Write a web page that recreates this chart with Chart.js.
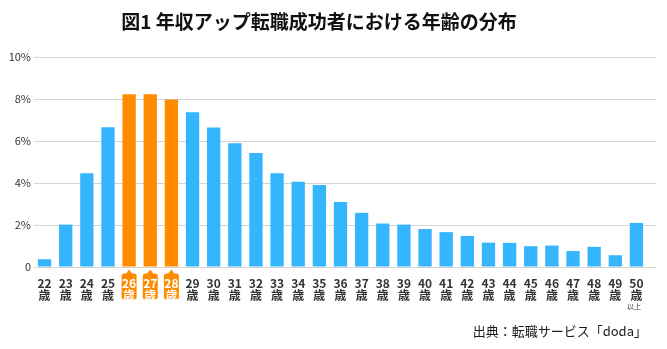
<!DOCTYPE html>
<html lang="ja">
<head>
<meta charset="utf-8">
<title>年収アップ転職成功者における年齢の分布</title>
<script src="https://cdn.jsdelivr.net/npm/chart.js@4"></script>
<style>
  html, body { margin: 0; padding: 0; background: #ffffff; }
  canvas { display: block; }
</style>
</head>
<body>
<canvas id="chart" width="667" height="349"></canvas>
<script>
// 年齢（歳）
const ages = ['22','23','24','25','26','27','28','29','30','31','32','33','34','35','36',
              '37','38','39','40','41','42','43','44','45','46','47','48','49','50'];
// 年収アップ転職成功者に占める割合（%）
const shares = [0.37, 2.02, 4.46, 6.66, 8.23, 8.23, 7.98, 7.37, 6.64, 5.89, 5.43, 4.47, 4.06, 3.90, 3.09,
                2.58, 2.07, 2.02, 1.81, 1.66, 1.48, 1.16, 1.15, 0.99, 1.02, 0.76, 0.96, 0.56, 2.10];
// 強調する年齢
const highlightAges = ['26', '27', '28'];
// 縦軸の目盛り
const yTicks = [0, 2, 4, 6, 8, 10];

const titleText = '図1 年収アップ転職成功者における年齢の分布';
const sourceText = '出典：転職サービス「doda」';
const ageUnit = '歳';
const lastAgeNote = '以上';

const BLUE = '#35b5fd';
const ORANGE = '#ff8b00';
const GRID = '#d4d4d4';
const FONT = '"Noto Sans CJK JP", "Noto Sans", sans-serif';

const isHighlight = i => highlightAges.includes(ages[i]);

// タイトル、強調年齢のラベル背景（吹き出し）、「以上」、出典を描く
const decorations = {
  id: 'decorations',
  beforeDraw(chart) {
    const ctx = chart.ctx;
    const x = chart.scales.x;
    ctx.save();
    ctx.fillStyle = ORANGE;
    ages.forEach((a, i) => {
      if (!isHighlight(i)) return;
      const cx = x.getPixelForTick(i);
      const w = 15, top = x.top + 6.5, h = 26, r = 2.5;
      const left = cx - w / 2;
      ctx.beginPath();
      ctx.moveTo(left + r, top);
      ctx.lineTo(cx - 3, top);
      ctx.lineTo(cx, top - 4);
      ctx.lineTo(cx + 3, top);
      ctx.lineTo(left + w - r, top);
      ctx.arcTo(left + w, top, left + w, top + r, r);
      ctx.lineTo(left + w, top + h - r);
      ctx.arcTo(left + w, top + h, left + w - r, top + h, r);
      ctx.lineTo(left + r, top + h);
      ctx.arcTo(left, top + h, left, top + h - r, r);
      ctx.lineTo(left, top + r);
      ctx.arcTo(left, top, left + r, top, r);
      ctx.closePath();
      ctx.fill();
    });
    ctx.restore();
  },
  afterDraw(chart) {
    const ctx = chart.ctx;
    const x = chart.scales.x;
    ctx.save();
    ctx.fillStyle = '#111111';
    ctx.font = 'bold 19px ' + FONT;
    ctx.textAlign = 'center';
    ctx.textBaseline = 'middle';
    ctx.fillText(titleText, 319, 22);

    ctx.fillStyle = '#333333';
    ctx.font = '7px ' + FONT;
    ctx.fillText(lastAgeNote, x.getPixelForTick(ages.length - 1) - 2.5, x.top + 39);

    ctx.fillStyle = '#1a1a1a';
    ctx.font = '13px ' + FONT;
    ctx.textAlign = 'right';
    ctx.fillText(sourceText, chart.chartArea.right, 331);
    ctx.restore();
  }
};

new Chart(document.getElementById('chart'), {
  type: 'bar',
  data: {
    labels: ages,
    datasets: [{
      data: shares,
      backgroundColor: ages.map((a, i) => isHighlight(i) ? ORANGE : BLUE),
      borderWidth: 0,
      barPercentage: 0.63,
      categoryPercentage: 1.0
    }]
  },
  options: {
    responsive: false,
    animation: false,
    layout: { padding: { left: 0, right: 11, top: 57, bottom: 28 } },
    plugins: {
      legend: { display: false },
      tooltip: { enabled: false },
      title: { display: false }
    },
    scales: {
      x: {
        grid: { display: false, drawTicks: false },
        border: { display: false },
        ticks: {
          autoSkip: false,
          maxRotation: 0,
          padding: 10,
          color: ctx => isHighlight(ctx.index) ? '#ffffff' : '#333333',
          font: { family: FONT, size: 12, weight: 'bold', lineHeight: 1.0 },
          callback: (v, i) => [ages[i], ageUnit]
        },
        afterFit: s => { s.height = 54; }
      },
      y: {
        min: 0,
        max: 10,
        afterBuildTicks: s => { s.ticks = yTicks.map(v => ({ value: v })); },
        grid: { color: GRID, lineWidth: 1, drawTicks: false },
        border: { display: false },
        ticks: {
          padding: 3,
          color: '#333333',
          font: { family: FONT, size: 11 },
          callback: v => v === 0 ? '0' : v + '%'
        },
        afterFit: s => { s.width = 34; }
      },
      // 目盛り線を右端まで少し延ばすための補助軸
      yRight: {
        position: 'right',
        min: 0,
        max: 10,
        afterBuildTicks: s => { s.ticks = yTicks.map(v => ({ value: v })); },
        grid: { color: GRID, lineWidth: 1, drawOnChartArea: false, drawTicks: true, tickLength: 9 },
        border: { display: false },
        ticks: { display: false },
        afterFit: s => { s.width = 9; }
      }
    }
  },
  plugins: [decorations]
});
</script>
</body>
</html>
